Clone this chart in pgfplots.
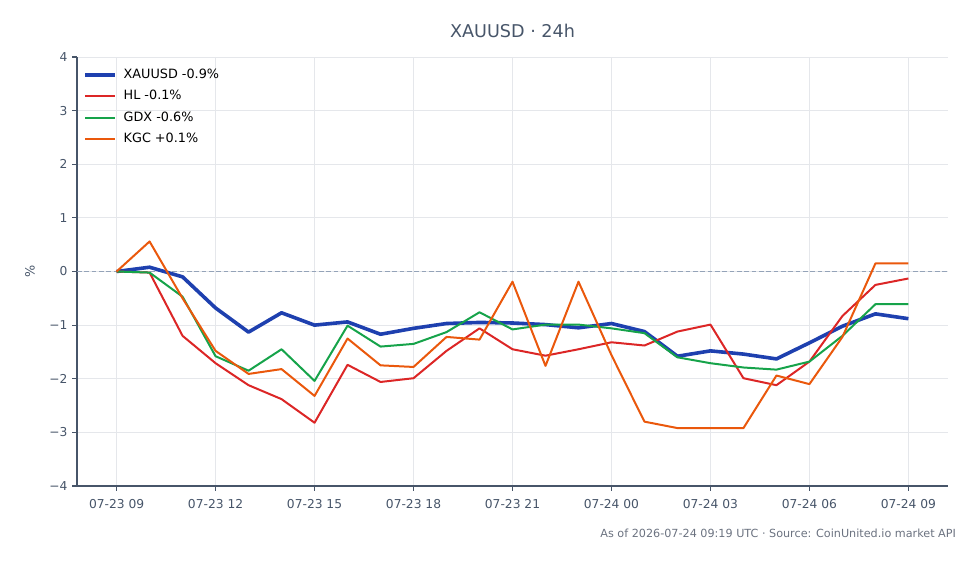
\documentclass[border=0pt]{standalone}
\usepackage{pgfplots}
\pgfplotsset{compat=1.18}
\usepackage{fontspec}
\setmainfont{DejaVu Sans}

\definecolor{cXAU}{HTML}{1E40AF}
\definecolor{cHL}{HTML}{DC2626}
\definecolor{cGDX}{HTML}{16A34A}
\definecolor{cKGC}{HTML}{EA580C}
\definecolor{slate}{HTML}{475569}
\definecolor{gridc}{HTML}{E5E7EB}
\definecolor{zeroc}{HTML}{94A3B8}
\definecolor{footc}{HTML}{6B7280}

% hourly % change, hour 0 = 07-23 09:00 UTC
\pgfplotstableread{
h  xau    hl     gdx    kgc
0   0.00   0.00   0.00   0.00
1   0.08  -0.02  -0.02   0.56
2  -0.10  -1.20  -0.47  -0.50
3  -0.68  -1.71  -1.58  -1.48
4  -1.13  -2.12  -1.85  -1.91
5  -0.77  -2.38  -1.45  -1.82
6  -1.00  -2.82  -2.04  -2.32
7  -0.94  -1.74  -1.01  -1.25
8  -1.17  -2.06  -1.40  -1.75
9  -1.06  -1.99  -1.35  -1.78
10 -0.97  -1.48  -1.13  -1.22
11 -0.95  -1.06  -0.76  -1.27
12 -0.96  -1.45  -1.08  -0.19
13 -0.99  -1.57  -0.99  -1.76
14 -1.05  -1.45  -0.99  -0.19
15 -0.97  -1.32  -1.06  -1.56
16 -1.12  -1.38  -1.15  -2.80
17 -1.58  -1.12  -1.60  -2.92
18 -1.48  -0.99  -1.71  -2.92
19 -1.54  -1.99  -1.79  -2.92
20 -1.63  -2.12  -1.83  -1.94
21 -1.33  -1.68  -1.68  -2.10
22 -1.02  -0.83  -1.20  -1.22
23 -0.79  -0.25  -0.61   0.15
24 -0.88  -0.13  -0.61   0.15
}\prices

\begin{document}
\begin{tikzpicture}[x=1pt,y=1pt]
\useasboundingbox (0,0) rectangle (735,423);
\begin{axis}[
  at={(57.75pt,58.5pt)}, anchor=south west,
  scale only axis, width=653.25pt, height=321.75pt,
  xmin=-1.2, xmax=25.2, ymin=-4, ymax=4,
  axis x line*=bottom, axis y line*=left,
  axis line style={slate, line width=0.8pt},
  every axis plot/.append style={line join=round},
  xtick={0,3,...,24},
  xticklabels={07-23 09,07-23 12,07-23 15,07-23 18,07-23 21,07-24 00,07-24 03,07-24 06,07-24 09},
  ytick={-4,-3,...,4},
  yticklabels={−4,−3,−2,−1,0,1,2,3,4},
  tick align=outside, major tick length=3.6pt,
  tick style={slate, line width=0.8pt},
  ticklabel style={font=\fontsize{9.2}{11}\selectfont, text=slate},
  xticklabel style={yshift=-3pt},
  grid=major, major grid style={gridc, line width=0.6pt},
  ylabel={\%}, ylabel style={font=\fontsize{9.6}{11}\selectfont, text=slate},
  ylabel shift=4pt,
  legend style={draw=none, fill=none, at={(0.004,0.985)}, anchor=north west,
    font=\fontsize{9.6}{11}\selectfont, row sep=3.4pt, inner sep=2pt,
    nodes={inner xsep=5pt}},
  legend cell align=left,
  legend image code/.code={\draw[#1] (0pt,0pt) -- (22.5pt,0pt);},
  clip=false,
]
\draw[zeroc, line width=0.75pt, dash pattern=on 3.5pt off 2pt]
  (axis cs:-1.2,0) -- (axis cs:25.2,0);
\addplot[cXAU, line width=2.7pt] table[x=h,y=xau]{\prices};
\addlegendentry{XAUUSD -0.9\%}
\addplot[cHL, line width=1.5pt] table[x=h,y=hl]{\prices};
\addlegendentry{HL -0.1\%}
\addplot[cGDX, line width=1.5pt] table[x=h,y=gdx]{\prices};
\addlegendentry{GDX -0.6\%}
\addplot[cKGC, line width=1.5pt] table[x=h,y=kgc]{\prices};
\addlegendentry{KGC +0.1\%}
\end{axis}
\node[text=slate, font=\fontsize{13.2}{15}\selectfont] at (384.4,399.75) {XAUUSD · 24h};
\node[text=footc, anchor=east, font=\fontsize{8.4}{10}\selectfont] at (720.5,23.25)
  {As of 2026-07-24 09:19 UTC · Source: CoinUnited.io market API};
\end{tikzpicture}
\end{document}
